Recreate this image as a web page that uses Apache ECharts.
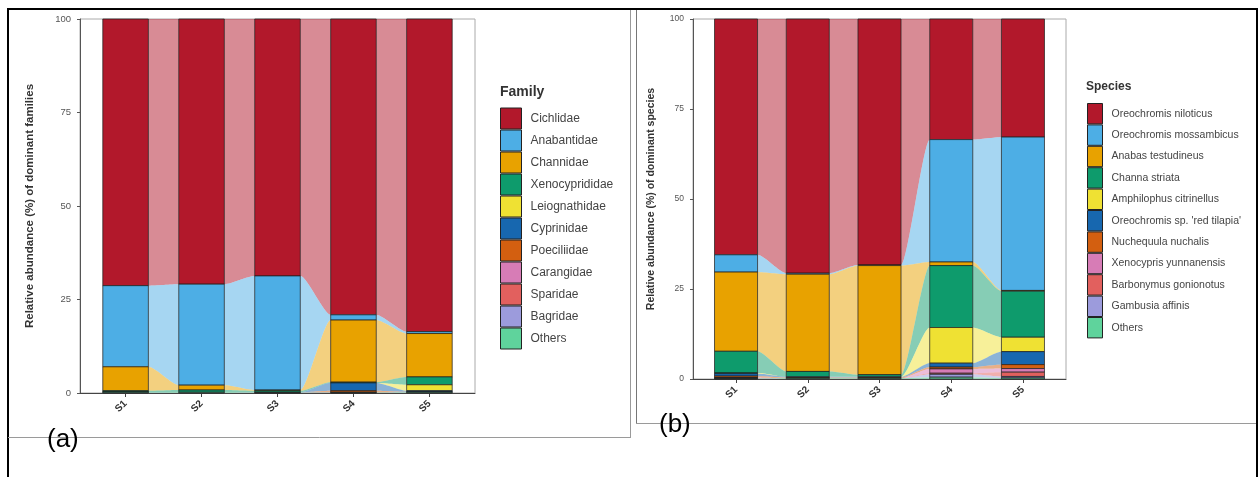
<!DOCTYPE html>
<html>
<head>
<meta charset="utf-8">
<script src="https://cdn.jsdelivr.net/npm/echarts@6/dist/echarts.min.js"></script>
<style>
  html, body { margin: 0; padding: 0; background: #ffffff; }
  #chart { width: 1258px; height: 477px; }
</style>
</head>
<body>
<div id="chart"></div>
<script>
// Sampling sites shown on both panels
const samples = ['S1', 'S2', 'S3', 'S4', 'S5'];
const yTicks = [0, 25, 50, 75, 100];

// (a) Relative abundance (%) of dominant families, S1..S5
const families = ['Cichlidae', 'Anabantidae', 'Channidae', 'Xenocyprididae', 'Leiognathidae',
  'Cyprinidae', 'Poeciliidae', 'Carangidae', 'Sparidae', 'Bagridae', 'Others'];
const cichlidae      = [71.3, 70.9, 68.7, 79.1, 83.6];
const anabantidae    = [21.7, 27.0, 30.5, 1.4, 0.5];
const channidae      = [6.4, 1.3, 0.2, 16.6, 11.6];
const xenocyprididae = [0.3, 0.6, 0.4, 0.2, 2.1];
const leiognathidae  = [0, 0, 0, 0, 1.6];
const cyprinidae     = [0.1, 0, 0, 2.1, 0.3];
const poeciliidae    = [0, 0, 0, 0.4, 0];
const carangidae     = [0, 0, 0, 0, 0.1];
const sparidae       = [0, 0, 0, 0.1, 0];
const bagridae       = [0, 0, 0.1, 0, 0];
const familyOthers   = [0.2, 0.2, 0.1, 0.1, 0.2];

// (b) Relative abundance (%) of dominant species, S1..S5
const species = ['Oreochromis niloticus', 'Oreochromis mossambicus', 'Anabas testudineus',
  'Channa striata', 'Amphilophus citrinellus', "Oreochromis sp. 'red tilapia'",
  'Nuchequula nuchalis', 'Xenocypris yunnanensis', 'Barbonymus gonionotus',
  'Gambusia affinis', 'Others'];
const oNiloticus    = [65.5, 70.6, 68.3, 33.5, 32.8];
const oMossambicus  = [4.8, 0.3, 0.2, 34.0, 42.6];
const aTestudineus  = [22.0, 27.0, 30.3, 1.0, 0.2];
const cStriata      = [6.0, 1.5, 0.6, 17.2, 12.8];
const aCitrinellus  = [0.2, 0, 0, 9.9, 4.0];
const oRedTilapia   = [0.7, 0.2, 0.2, 1.1, 3.6];
const nNuchalis     = [0.4, 0.2, 0.2, 0.5, 1.1];
const xYunnanensis  = [0.1, 0, 0, 1.2, 1.0];
const bGonionotus   = [0.1, 0, 0, 0.3, 1.2];
const gAffinis      = [0.1, 0, 0, 0.8, 0.4];
const speciesOthers = [0.1, 0.2, 0.2, 0.5, 0.3];

const familyValues = [cichlidae, anabantidae, channidae, xenocyprididae, leiognathidae,
  cyprinidae, poeciliidae, carangidae, sparidae, bagridae, familyOthers];
const speciesValues = [oNiloticus, oMossambicus, aTestudineus, cStriata, aCitrinellus,
  oRedTilapia, nNuchalis, xYunnanensis, bGonionotus, gAffinis, speciesOthers];

// Fill colours, by legend position
const palette = ['#B2182B', '#4DAEE5', '#E8A200', '#0E9B6C', '#EFE133', '#1767AF',
  '#D35F10', '#D77CB6', '#E2605E', '#9C9BDC', '#5FD39C'];

const FONT = 'Liberation Sans, Arial, sans-serif';
const HALF = 0.3;     // half bar width, in category units
const KNOT = 0.22;    // curvature of the flows between bars

// Stack from the bottom: last taxon sits at the base of each bar.
function buildStacks(values) {
  const n = values.length;
  const out = values.map(() => []);
  for (let s = 0; s < samples.length; s++) {
    let acc = 0;
    for (let k = n - 1; k >= 0; k--) {
      const v = values[k][s];
      out[k][s] = [acc, acc + v];
      acc += v;
    }
  }
  return out;
}

function bezierPts(a, b, k, steps) {
  // cubic bezier from a to b with horizontal tangents at both ends
  const pts = [];
  for (let i = 0; i <= steps; i++) {
    const t = i / steps, u = 1 - t;
    const x = u*u*u*a[0] + 3*u*u*t*(a[0] + k) + 3*u*t*t*(b[0] - k) + t*t*t*b[0];
    const y = u*u*u*a[1] + 3*u*u*t*a[1] + 3*u*t*t*b[1] + t*t*t*b[1];
    pts.push([x, y]);
  }
  return pts;
}

function renderAlluvium(params, api) {
  const x = api.value(0), lo = api.value(1), hi = api.value(2);
  const nlo = api.value(3), nhi = api.value(4);
  const color = api.visual('color');
  const children = [];
  const hasNext = !(nlo === null || nlo === undefined || isNaN(nlo));
  if (hasNext && (hi - lo > 0 || nhi - nlo > 0)) {
    const a0 = api.coord([x + HALF, hi]), a1 = api.coord([x + HALF, lo]);
    const b0 = api.coord([x + 1 - HALF, nhi]), b1 = api.coord([x + 1 - HALF, nlo]);
    const k = (b0[0] - a0[0]) * KNOT;
    const top = bezierPts(a0, b0, k, 16);
    const bottom = bezierPts(b1, a1, -k, 16);
    children.push({
      type: 'polygon',
      shape: { points: top.concat(bottom) },
      style: { fill: color, opacity: 0.5 },
      z2: 1
    });
  }
  if (hi - lo > 0) {
    const p0 = api.coord([x - HALF, hi]);
    const p1 = api.coord([x + HALF, lo]);
    children.push({
      type: 'rect',
      shape: { x: p0[0], y: p0[1], width: p1[0] - p0[0], height: p1[1] - p0[1] },
      style: { fill: color, stroke: 'rgba(30,30,30,0.9)', lineWidth: 0.8 },
      z2: 2
    });
  }
  return { type: 'group', children: children };
}

function makeSeries(names, values, gridIndex) {
  const stacks = buildStacks(values);
  return names.map((name, k) => ({
    type: 'custom',
    name: name,
    xAxisIndex: gridIndex,
    yAxisIndex: gridIndex,
    itemStyle: { color: palette[k] },
    renderItem: renderAlluvium,
    encode: { x: 0, y: [1, 2] },
    silent: true,
    data: samples.map((s, i) => {
      const cur = stacks[k][i];
      const nxt = i < samples.length - 1 ? stacks[k][i + 1] : [null, null];
      return [i + 1, cur[0], cur[1], nxt[0], nxt[1]];
    })
  }));
}

function xAxisFor(gridIndex) {
  return {
    gridIndex: gridIndex, type: 'value', min: 0.4, max: 5.6,
    axisLine: { show: true, lineStyle: { color: '#444', width: 1 } },
    axisTick: { show: true, customValues: [1, 2, 3, 4, 5], length: 4, lineStyle: { color: '#444' } },
    axisLabel: {
      customValues: [1, 2, 3, 4, 5],
      formatter: v => samples[Math.round(v) - 1],
      rotate: 45, margin: 9, fontSize: 10, fontWeight: 'bold', color: '#333', fontFamily: FONT
    },
    splitLine: { show: false }
  };
}

function yAxisFor(gridIndex, name, gap, nameSize, labelSize) {
  return {
    gridIndex: gridIndex, type: 'value', min: 0, max: 100, interval: 25,
    axisLine: { show: true, lineStyle: { color: '#555', width: 1 } },
    axisTick: { show: true, length: 3, lineStyle: { color: '#555' } },
    axisLabel: { fontSize: labelSize, color: '#555', margin: 9, fontFamily: FONT,
      formatter: v => (yTicks.indexOf(v) >= 0 ? String(v) : '') },
    splitLine: { show: false },
    name: name, nameLocation: 'middle', nameGap: gap,
    nameTextStyle: { fontSize: nameSize, fontWeight: 'bold', color: '#333', fontFamily: FONT }
  };
}

function legendFor(names, left, top, w, h, size) {
  return {
    orient: 'vertical', left: left, top: top,
    itemWidth: w, itemHeight: h, itemGap: 0, icon: 'rect',
    selectedMode: false,
    itemStyle: { borderColor: '#222', borderWidth: 1 },
    textStyle: { fontSize: size, color: '#444', fontFamily: FONT, padding: [0, 0, 0, 4] },
    data: names
  };
}

const chart = echarts.init(document.getElementById('chart'), null, { renderer: 'canvas' });

const frame = '#9a9a9a';
chart.setOption({
  backgroundColor: '#ffffff',
  animation: false,
  title: [
    { text: 'Family', left: 495, top: 80, textStyle: { fontSize: 14, fontWeight: 'bold', color: '#333', fontFamily: FONT } },
    { text: 'Species', left: 1081, top: 76, textStyle: { fontSize: 12, fontWeight: 'bold', color: '#333', fontFamily: FONT } }
  ],
  legend: [
    legendFor(families, 495, 102.5, 21, 21, 12),
    legendFor(species, 1082, 98, 15, 20.4, 10.5)
  ],
  grid: [
    { left: 80, right: 783, top: 19, bottom: 84, show: true, borderColor: '#aaaaaa', borderWidth: 1, containLabel: false },
    { left: 693, right: 192, top: 19, bottom: 98, show: true, borderColor: '#aaaaaa', borderWidth: 1, containLabel: false }
  ],
  xAxis: [xAxisFor(0), xAxisFor(1)],
  yAxis: [
    yAxisFor(0, 'Relative abundance (%) of dominant families', 44, 11.5, 9.5),
    yAxisFor(1, 'Relative abundance (%) of dominant species', 36, 10.5, 8.5)
  ],
  series: makeSeries(families, familyValues, 0).concat(makeSeries(species, speciesValues, 1)),
  graphic: [
    // page rules and panel frames
    { type: 'line', shape: { x1: 8, y1: 9, x2: 1258, y2: 9 }, style: { stroke: '#000', lineWidth: 2 }, silent: true },
    { type: 'line', shape: { x1: 8, y1: 8, x2: 8, y2: 477 }, style: { stroke: '#000', lineWidth: 2 }, silent: true },
    { type: 'line', shape: { x1: 1257, y1: 8, x2: 1257, y2: 477 }, style: { stroke: '#000', lineWidth: 2 }, silent: true },
    { type: 'line', shape: { x1: 630.5, y1: 10, x2: 630.5, y2: 437.5 }, style: { stroke: frame, lineWidth: 1 }, silent: true },
    { type: 'line', shape: { x1: 8, y1: 437.5, x2: 631, y2: 437.5 }, style: { stroke: frame, lineWidth: 1 }, silent: true },
    { type: 'line', shape: { x1: 636.5, y1: 10, x2: 636.5, y2: 423.5 }, style: { stroke: '#777', lineWidth: 1 }, silent: true },
    { type: 'line', shape: { x1: 636, y1: 423.5, x2: 1256, y2: 423.5 }, style: { stroke: frame, lineWidth: 1 }, silent: true },
    { type: 'text', left: 47, top: 427, style: { text: '(a)', fontSize: 26, fill: '#000', fontFamily: FONT }, silent: true },
    { type: 'text', left: 659, top: 412, style: { text: '(b)', fontSize: 26, fill: '#000', fontFamily: FONT }, silent: true }
  ]
});
</script>
</body>
</html>
